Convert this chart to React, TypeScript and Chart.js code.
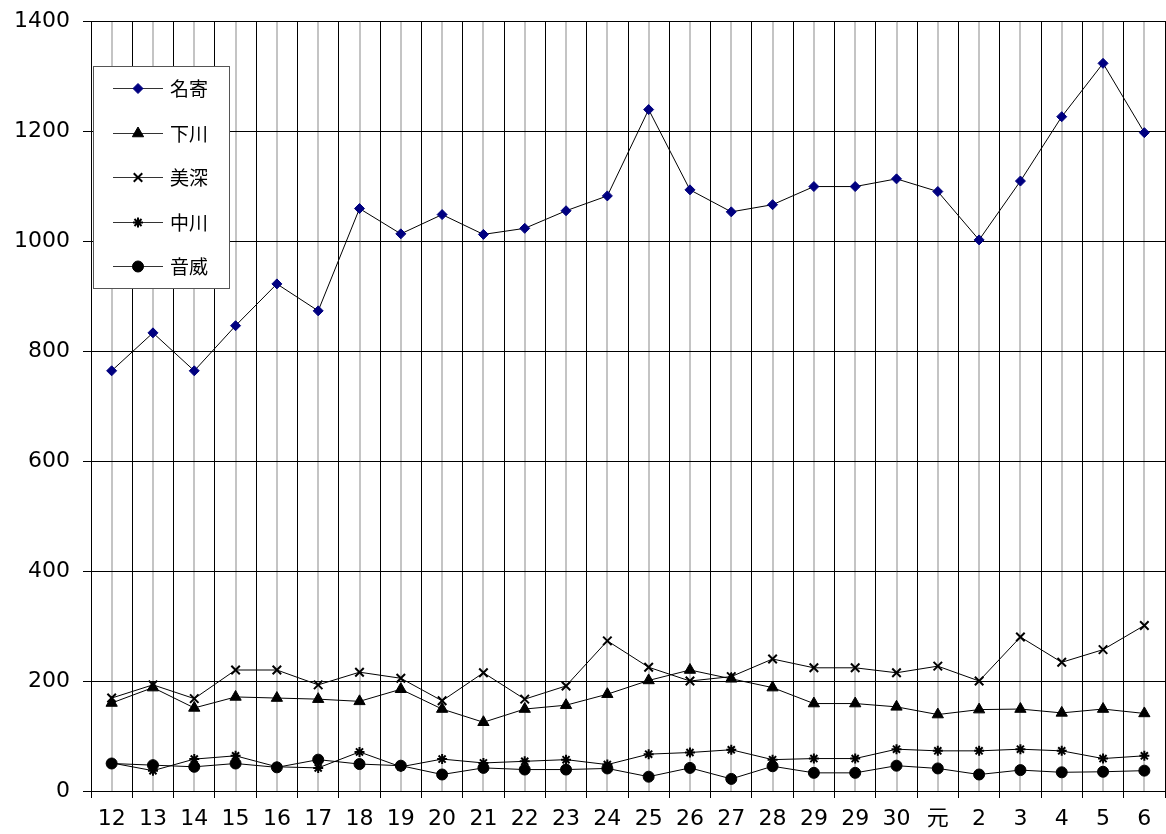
import React, { useEffect, useRef } from 'react';
import { Chart, registerables } from 'chart.js';
import { drawPoint } from 'chart.js/helpers';

Chart.register(...registerables);

const categories = ['12', '13', '14', '15', '16', '17', '18', '19', '20', '21', '22', '23', '24', '25', '26', '27', '28', '29', '29', '30', '元', '2', '3', '4', '5', '6'];

const nayoro = [764, 833, 764, 846, 922, 873, 1059, 1013, 1048, 1012, 1023, 1055, 1082, 1239, 1093, 1053, 1066, 1099, 1099, 1113, 1090, 1002, 1109, 1226, 1323, 1197];
const shimokawa = [160, 188, 151, 171, 169, 167, 163, 185, 149, 125, 149, 156, 176, 201, 220, 204, 188, 159, 159, 153, 139, 148, 149, 142, 149, 141];
const bifuka = [169, 193, 168, 220, 220, 193, 216, 205, 164, 215, 167, 191, 273, 225, 200, 208, 240, 224, 224, 215, 227, 200, 280, 234, 257, 301];
const nakagawa = [51, 37, 58, 64, 44, 42, 71, 44, 58, 51, 54, 57, 48, 67, 70, 75, 57, 59, 59, 76, 73, 73, 76, 73, 59, 64];
const otoineppu = [50, 47, 44, 50, 43, 57, 49, 46, 30, 42, 39, 39, 41, 26, 42, 22, 45, 33, 33, 46, 41, 30, 38, 34, 35, 37];

const seriesNames = ['名寄', '下川', '美深', '中川', '音威'];
const yTicks = [0, 200, 400, 600, 800, 1000, 1200, 1400];

const NUM_FONT = '"DejaVu Sans", "Noto Sans CJK JP", sans-serif';
const CJK_FONT = '"Noto Sans CJK JP", sans-serif';

const centerLines = {
  id: 'centerLines',
  beforeDraw(chart: any) {
    const { ctx, chartArea, scales } = chart;
    const x = scales.x;
    ctx.save();
    ctx.strokeStyle = '#c4c4c4';
    ctx.lineWidth = 2;
    for (let i = 0; i < categories.length; i++) {
      const px = Math.round(x.getPixelForValue(i));
      ctx.beginPath();
      ctx.moveTo(px, chartArea.top);
      ctx.lineTo(px, chartArea.bottom);
      ctx.stroke();
    }
    ctx.restore();
  },
};

const boxLegend = {
  id: 'boxLegend',
  afterDraw(chart: any) {
    const { ctx } = chart;
    const left = 93.5;
    const top = 66.5;
    const w = 136;
    const h = 222;
    ctx.save();
    ctx.fillStyle = '#ffffff';
    ctx.fillRect(left, top, w, h);
    ctx.strokeStyle = '#555555';
    ctx.lineWidth = 1;
    ctx.strokeRect(left, top, w, h);
    chart.data.datasets.forEach((ds: any, i: number) => {
      const y = 88 + i * 44.5;
      ctx.strokeStyle = '#333333';
      ctx.lineWidth = 1;
      ctx.beginPath();
      ctx.moveTo(113, Math.round(y) + 0.5);
      ctx.lineTo(163, Math.round(y) + 0.5);
      ctx.stroke();
      ctx.fillStyle = ds.pointBackgroundColor;
      ctx.strokeStyle = ds.pointBorderColor;
      ctx.lineWidth = ds.pointBorderWidth;
      drawPoint(ctx, { pointStyle: ds.pointStyle, rotation: 0, radius: ds.pointRadius, borderWidth: ds.pointBorderWidth } as any, 138, Math.round(y) + 0.5);
      ctx.fillStyle = '#000000';
      ctx.font = '19px ' + CJK_FONT;
      ctx.textBaseline = 'middle';
      ctx.textAlign = 'left';
      ctx.fillText(seriesNames[i], 170, y + 1);
    });
    ctx.restore();
  },
};

const zeroPad = (s: any) => {
  s.paddingTop = 0;
  s.paddingBottom = 0;
  s.paddingLeft = 0;
  s.paddingRight = 0;
};

export default function App() {
  const ref = useRef<HTMLCanvasElement>(null);

  useEffect(() => {
    if (!ref.current) return;
    const mk = (label: string, data: number[], style: string, color: string, radius: number, bw: number) => ({
      label,
      data,
      borderColor: '#000000',
      borderWidth: 1,
      pointStyle: style,
      pointRadius: radius,
      pointBackgroundColor: color,
      pointBorderColor: color,
      pointBorderWidth: bw,
      tension: 0,
      fill: false,
    });
    const chart = new Chart(ref.current, {
      type: 'line',
      data: {
        labels: categories,
        datasets: [
          mk(seriesNames[0], nayoro, 'rectRot', '#000080', 5, 1),
          mk(seriesNames[1], shimokawa, 'triangle', '#000000', 6.5, 1),
          mk(seriesNames[2], bifuka, 'crossRot', '#000000', 6, 2),
          mk(seriesNames[3], nakagawa, 'star', '#000000', 5, 2),
          mk(seriesNames[4], otoineppu, 'circle', '#000000', 5.5, 1),
        ] as any,
      },
      options: {
        responsive: false,
        animation: false,
        devicePixelRatio: 1,
        layout: { autoPadding: false, padding: { top: 21, right: 1, left: 0, bottom: 0 } },
        plugins: {
          legend: { display: false },
          tooltip: { enabled: false },
        },
        scales: {
          x: {
            type: 'category',
            offset: true,
            grid: {
              offset: true,
              color: '#000000',
              lineWidth: 1,
              tickLength: 7,
              drawTicks: true,
            },
            border: { display: true, color: '#000000', width: 1 },
            ticks: {
              autoSkip: false,
              maxRotation: 0,
              color: '#000000',
              padding: 8,
              font: { family: NUM_FONT, size: 22 },
            },
            afterFit: (s: any) => { s.height = 43; zeroPad(s); },
          },
          y: {
            min: 0,
            max: 1400,
            afterBuildTicks: (s: any) => { s.ticks = yTicks.map((v) => ({ value: v })); },
            grid: { color: '#000000', lineWidth: 1, tickLength: 8 },
            border: { display: true, color: '#000000', width: 1 },
            ticks: {
              color: '#000000',
              padding: 13,
              font: { family: NUM_FONT, size: 22 },
              callback: (v: any) => String(v),
            },
            afterFit: (s: any) => { s.width = 91; zeroPad(s); },
          },
        },
      },
      plugins: [centerLines, boxLegend],
    });
    return () => chart.destroy();
  }, []);

  return (
    <div style={{ position: 'fixed', left: 0, top: 0, width: 1166, height: 834, background: '#ffffff' }}>
      <canvas ref={ref} width={1166} height={834} style={{ width: 1166, height: 834, display: 'block' }} />
    </div>
  );
}
